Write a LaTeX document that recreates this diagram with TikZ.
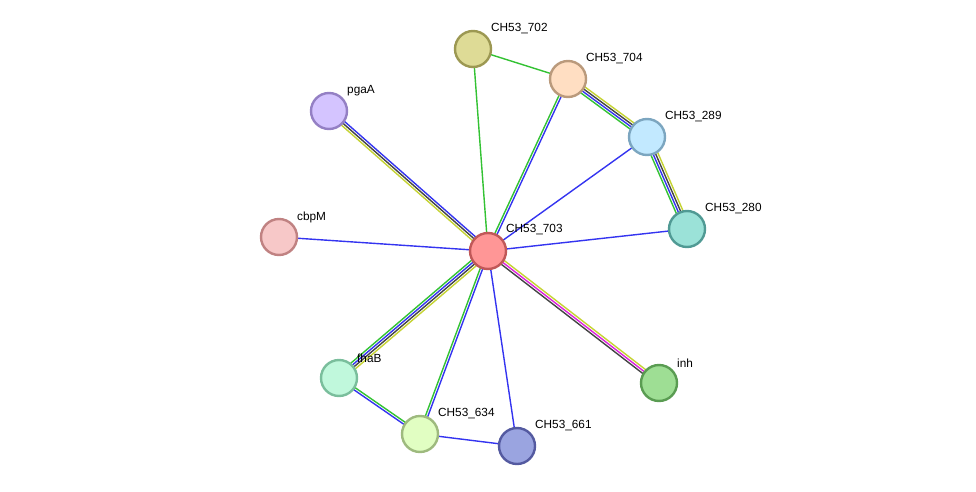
\documentclass[tikz,border=0pt]{standalone}
\usepackage{fontspec}
\setmainfont{Liberation Sans}
\usetikzlibrary{calc,backgrounds}

\definecolor{lnkblue}{HTML}{3434F0}
\definecolor{lnkgreen}{HTML}{33C233}
\definecolor{lnkyellow}{HTML}{C5D332}
\definecolor{lnkdark}{HTML}{444444}
\definecolor{lnkpink}{HTML}{DD22DD}

% draws one line per evidence channel, side by side
\newcommand{\bundle}[3]{%
  \foreach \off/\col in {#3}
    \draw[link,\col] ($(#1.center)!\off pt!90:(#2.center)$) -- ($(#2.center)!\off pt!-90:(#1.center)$);}

\begin{document}
\begin{tikzpicture}[x=1pt,y=-1pt,
  prot/.style={circle,minimum size=36pt,inner sep=0pt,line width=2.4pt},
  lbl/.style={anchor=west,inner sep=0pt,font=\fontsize{11.8}{13}\selectfont},
  link/.style={line width=1.4pt}]
\useasboundingbox (0,0) rectangle (976,492);

\node[prot,fill={rgb,255:red,255;green,150;blue,150},draw={rgb,255:red,192;green,88;blue,88}] (n703) at (488,251) {};
\node[prot,fill={rgb,255:red,222;green,219;blue,150},draw={rgb,255:red,156;green,152;blue,82}] (n702) at (473,49) {};
\node[prot,fill={rgb,255:red,255;green,222;blue,194},draw={rgb,255:red,186;green,154;blue,124}] (n704) at (568,79) {};
\node[prot,fill={rgb,255:red,194;green,233;blue,255},draw={rgb,255:red,124;green,166;blue,192}] (n289) at (647,137) {};
\node[prot,fill={rgb,255:red,155;green,226;blue,216},draw={rgb,255:red,80;green,154;blue,148}] (n280) at (687,229) {};
\node[prot,fill={rgb,255:red,212;green,196;blue,255},draw={rgb,255:red,148;green,128;blue,196}] (pgaA) at (329,111) {};
\node[prot,fill={rgb,255:red,247;green,200;blue,200},draw={rgb,255:red,192;green,130;blue,130}] (cbpM) at (279,237) {};
\node[prot,fill={rgb,255:red,192;green,248;blue,220},draw={rgb,255:red,122;green,190;blue,156}] (fhaB) at (339,378) {};
\node[prot,fill={rgb,255:red,225;green,254;blue,194},draw={rgb,255:red,158;green,186;blue,126}] (n634) at (420,434) {};
\node[prot,fill={rgb,255:red,154;green,164;blue,224},draw={rgb,255:red,84;green,90;blue,160}] (n661) at (517,446) {};
\node[prot,fill={rgb,255:red,158;green,222;blue,148},draw={rgb,255:red,90;green,156;blue,82}] (inh) at (659,383) {};

\node[lbl] (l703) at ([shift={(18,-21)}]n703.center) {CH53\_703};
\node[lbl] (l702) at ([shift={(18,-20)}]n702.center) {CH53\_702};
\node[lbl] (l704) at ([shift={(18,-20)}]n704.center) {CH53\_704};
\node[lbl] (l289) at ([shift={(18,-20)}]n289.center) {CH53\_289};
\node[lbl] (l280) at ([shift={(18,-20)}]n280.center) {CH53\_280};
\node[lbl] (lpgaA) at ([shift={(18,-20)}]pgaA.center) {pgaA};
\node[lbl] (lcbpM) at ([shift={(18,-20)}]cbpM.center) {cbpM};
\node[lbl] (lfhaB) at ([shift={(18,-20)}]fhaB.center) {fhaB};
\node[lbl] (l634) at ([shift={(18,-20)}]n634.center) {CH53\_634};
\node[lbl] (l661) at ([shift={(18,-20)}]n661.center) {CH53\_661};
\node[lbl] (linh) at ([shift={(18,-20)}]inh.center) {inh};

\begin{scope}[on background layer]
\bundle{n703}{n702}{0/lnkgreen}
\bundle{n702}{n704}{0/lnkgreen}
\bundle{n703}{n704}{1.2/lnkgreen,-1.2/lnkblue}
\bundle{n704}{n289}{3.6/lnkyellow,1.2/lnkdark,-1.2/lnkblue,-3.6/lnkgreen}
\bundle{n289}{n280}{3.6/lnkyellow,1.2/lnkdark,-1.2/lnkblue,-3.6/lnkgreen}
\bundle{n703}{n289}{0/lnkblue}
\bundle{n703}{n280}{0/lnkblue}
\bundle{n703}{pgaA}{2.4/lnkyellow,0/lnkdark,-2.4/lnkblue}
\bundle{n703}{cbpM}{0/lnkblue}
\bundle{n703}{fhaB}{3.6/lnkyellow,1.2/lnkdark,-1.2/lnkblue,-3.6/lnkgreen}
\bundle{n703}{n634}{1.2/lnkblue,-1.2/lnkgreen}
\bundle{n703}{n661}{0/lnkblue}
\bundle{n703}{inh}{2.4/lnkyellow,0/lnkpink,-2.4/lnkdark}
\bundle{fhaB}{n634}{1.2/lnkgreen,-1.2/lnkblue}
\bundle{n634}{n661}{0/lnkblue}
\end{scope}
\end{tikzpicture}
\end{document}
